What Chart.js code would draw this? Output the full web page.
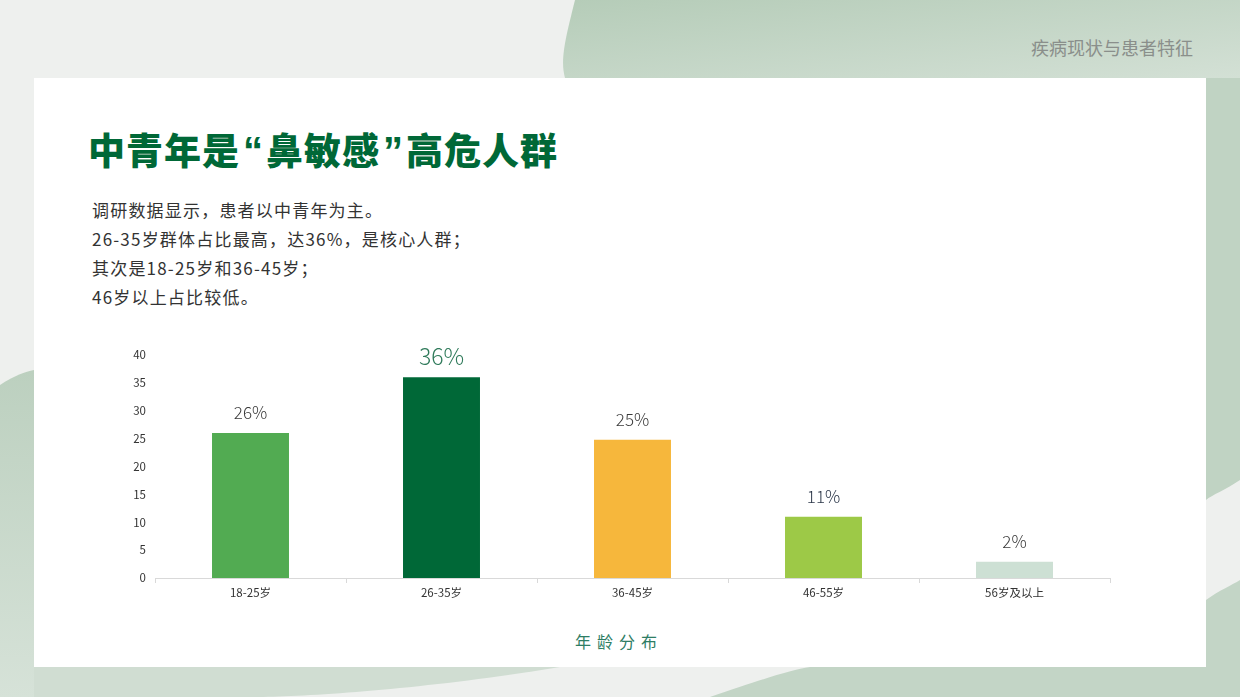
<!DOCTYPE html>
<html>
<head>
<meta charset="utf-8">
<script src="https://cdn.jsdelivr.net/npm/chart.js@4"></script>
<style>
  html, body { margin: 0; padding: 0; }
  body { width: 1240px; height: 697px; position: relative; overflow: hidden; background: #eef0ee; font-family: "Noto Sans CJK SC", sans-serif; }
  #bg { position: absolute; left: 0; top: 0; }
  .card { position: absolute; left: 34px; top: 78px; width: 1172px; height: 589px; background: #ffffff; }
  .crumb { position: absolute; left: 1031px; top: 34px; font-size: 18px; color: #8a8f8b; }
  .title { position: absolute; left: 88px; top: 122px; font-size: 37px; font-weight: 900; color: #006837; letter-spacing: 1px; white-space: nowrap; }
  .title .q { font-family: "Liberation Sans", sans-serif; font-weight: 700; font-size: 40px; letter-spacing: 0; margin: 0 3px; }
  .desc { position: absolute; left: 92px; top: 195px; font-size: 17px; letter-spacing: 1.2px; line-height: 29px; color: #333; }
  .chart-box { position: absolute; left: 110px; top: 347px; width: 1010px; height: 263px; }
  .xname { position: absolute; left: 575px; top: 629px; font-size: 16px; color: #2e7d64; letter-spacing: 6px; }
</style>
</head>
<body>
<svg id="bg" width="1240" height="697">
  <defs>
    <linearGradient id="g1" x1="0" y1="0" x2="1" y2="1">
      <stop offset="0" stop-color="#b5ccb8"/>
      <stop offset="1" stop-color="#d3e0d5"/>
    </linearGradient>
    <linearGradient id="g2" x1="0" y1="0" x2="0" y2="1">
      <stop offset="0" stop-color="#bcd0bf"/>
      <stop offset="1" stop-color="#d6e2d8"/>
    </linearGradient>
  </defs>
  <path d="M575 0 C565 40 560 60 565 78 L1240 78 L1240 0 Z" fill="url(#g1)"/>
  <path d="M1206 78 L1240 78 L1240 480 C1225 490 1212 495 1206 500 Z" fill="#c0d3c3"/>
  <path d="M0 385 C15 375 25 372 34 370 L34 697 L0 697 Z" fill="url(#g2)"/>
  <path d="M34 667 L560 667 C420 690 300 697 250 697 L34 697 Z" fill="#d0ddd2"/>
  <path d="M710 697 C760 680 790 670 810 667 L1206 667 L1206 600 C1220 590 1232 585 1240 580 L1240 697 Z" fill="#c3d5c6"/>
</svg>
<div class="card"></div>
<div class="crumb">疾病现状与患者特征</div>
<div class="title">中青年是<span class="q">“</span>鼻敏感<span class="q">”</span>高危人群</div>
<div class="desc">
  调研数据显示，患者以中青年为主。<br>
  26-35岁群体占比最高，达36%，是核心人群；<br>
  其次是18-25岁和36-45岁；<br>
  46岁以上占比较低。
</div>
<div class="chart-box"><canvas id="ageChart"></canvas></div>
<div class="xname">年龄分布</div>

<script>
// age groups
const ageGroups = ['18-25岁', '26-35岁', '36-45岁', '46-55岁', '56岁及以上'];
const shareValues = [26, 36, 24.8, 11, 2.9];
const shareLabels = ['26%', '36%', '25%', '11%', '2%'];
const barColors = ['#52ab52', '#006837', '#f6b73c', '#9dc947', '#cde0d4'];
const yTicks = [0, 5, 10, 15, 20, 25, 30, 35, 40];

// value labels above the bars
const valueLabels = {
  id: 'valueLabels',
  afterDatasetsDraw(chart) {
    const ctx = chart.ctx;
    const meta = chart.getDatasetMeta(0);
    ctx.save();
    ctx.textAlign = 'center';
    ctx.textBaseline = 'middle';
    meta.data.forEach((bar, i) => {
      const big = i === 1;
      ctx.font = '300 ' + (big ? '23px' : '17px') + ' "Noto Sans CJK SC", sans-serif';
      ctx.fillStyle = big ? '#2f7a5a' : (i === 3 ? '#2b3648' : '#3a3a3a');
      ctx.fillText(shareLabels[i], bar.x, bar.y - (big ? 21 : 20));
    });
    ctx.restore();
  }
};

const ageCtx = document.getElementById('ageChart').getContext('2d');
new Chart(ageCtx, {
  type: 'bar',
  data: {
    labels: ageGroups,
    datasets: [{
      data: shareValues,
      backgroundColor: barColors,
      borderWidth: 0,
      barPercentage: 0.5,
      categoryPercentage: 0.806
    }]
  },
  options: {
    responsive: true,
    maintainAspectRatio: false,
    animation: false,
    layout: { padding: { top: 4, right: 10, left: 0, bottom: 0 } },
    plugins: {
      legend: { display: false },
      tooltip: { enabled: false }
    },
    scales: {
      x: {
        grid: { drawOnChartArea: false, color: '#d9d9d9', tickLength: 5 },
        border: { color: '#d9d9d9' },
        ticks: { color: '#333', font: { size: 11.5, family: '"Noto Sans CJK SC", sans-serif' }, padding: 3 },
        afterFit(scale) { scale.height = 32; }
      },
      y: {
        min: 0,
        max: 40,
        grid: { display: false },
        border: { display: false },
        afterBuildTicks(scale) { scale.ticks = yTicks.map(v => ({ value: v })); },
        ticks: { color: '#333', font: { size: 11.5, family: '"Noto Sans CJK SC", sans-serif' }, padding: 1 },
        afterFit(scale) { scale.width = 45; }
      }
    }
  },
  plugins: [valueLabels]
});
</script>
</body>
</html>
